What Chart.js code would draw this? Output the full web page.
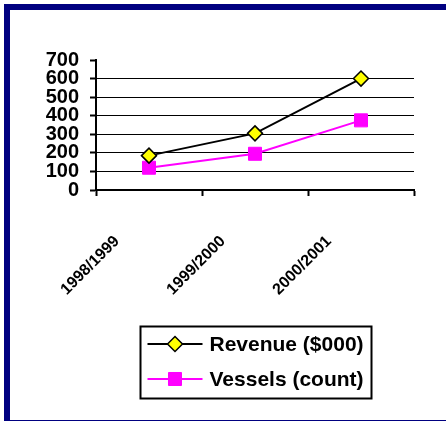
<!DOCTYPE html>
<html>
<head>
<meta charset="utf-8">
<script src="https://cdn.jsdelivr.net/npm/chart.js@4.4.0/dist/chart.umd.min.js"></script>
<style>
  html, body { margin: 0; padding: 0; background: #fff; width: 446px; height: 421px; overflow: hidden; }
  #frame {
    position: absolute; left: 4px; top: 4px; width: 442px; height: 417px;
    box-sizing: border-box;
    border-top: 6px solid #000080; border-left: 6px solid #000080; border-bottom: 1px solid #000080;
  }
  #wrap { position: absolute; left: 10px; top: 10px; width: 436px; height: 410px; }
</style>
</head>
<body>
<div id="frame"></div>
<div id="wrap"><canvas id="chart"></canvas></div>
<script>
// datos de la grafica
const seasons = ['1998/1999', '1999/2000', '2000/2001'];
const revenue = [185, 305, 600];
const vessels = [120, 195, 375];
const seriesNames = ['Revenue ($000)', 'Vessels (count)'];
const yMin = 0;
const yMax = 700;
const yStep = 100;

const FONT = '"Liberation Sans", Arial, sans-serif';
Chart.defaults.font.family = FONT;
Chart.defaults.font.weight = 'bold';
Chart.defaults.color = '#000';

// leyenda con recuadro, centrada bajo el area del grafico
const boxedLegend = {
    id: 'boxedLegend',
    afterDraw(chart) {
        const ctx = chart.ctx;
        const area = chart.chartArea;
        const sets = chart.data.datasets;
        ctx.save();
        ctx.font = 'bold 21px ' + FONT;
        const lineLen = 55, gap = 7, padX = 7, rowH = 35;
        const maxText = Math.max(...sets.map(d => ctx.measureText(d.label).width));
        const w = Math.round(padX + lineLen + gap + maxText + 8);
        const h = 72;
        const left = Math.round((area.left + area.right) / 2 - w / 2) + 0.5;
        const top = Math.round(area.bottom + 136) + 0.5;

        ctx.lineWidth = 2;
        ctx.strokeStyle = '#000';
        ctx.strokeRect(left, top, w, h);

        sets.forEach((d, i) => {
            const y = Math.round(top + 17 + i * rowH);
            const x0 = left + padX;
            ctx.strokeStyle = d.borderColor;
            ctx.lineWidth = 2;
            ctx.beginPath();
            ctx.moveTo(x0, y);
            ctx.lineTo(x0 + lineLen, y);
            ctx.stroke();

            ctx.fillStyle = d.pointBackgroundColor;
            ctx.strokeStyle = d.pointBorderColor;
            ctx.lineWidth = d.pointBorderWidth;
            Chart.helpers.drawPoint(ctx, {
                pointStyle: d.pointStyle,
                radius: d.pointRadius,
                borderWidth: d.pointBorderWidth,
                rotation: 0
            }, x0 + lineLen / 2, y);

            ctx.fillStyle = '#000';
            ctx.textAlign = 'left';
            ctx.textBaseline = 'middle';
            ctx.fillText(d.label, x0 + lineLen + gap, y + 1);
        });
        ctx.restore();
    }
};

new Chart(document.getElementById('chart').getContext('2d'), {
    type: 'line',
    data: {
        labels: seasons,
        datasets: [{
            label: seriesNames[0],
            data: revenue,
            borderColor: '#000',
            borderWidth: 2,
            pointStyle: 'rectRot',
            pointRadius: 7.5,
            pointBackgroundColor: '#FFFF00',
            pointBorderColor: '#000',
            pointBorderWidth: 1.5,
            tension: 0
        }, {
            label: seriesNames[1],
            data: vessels,
            borderColor: '#FF00FF',
            borderWidth: 2,
            pointStyle: 'rect',
            pointRadius: 9.2,
            pointBackgroundColor: '#FF00FF',
            pointBorderColor: '#FF00FF',
            pointBorderWidth: 1,
            tension: 0
        }]
    },
    options: {
        responsive: true,
        maintainAspectRatio: false,
        animation: false,
        layout: { padding: { top: 50, right: 32, left: 0, bottom: 0 } },
        plugins: {
            legend: { display: false },
            tooltip: { enabled: false }
        },
        scales: {
            x: {
                offset: true,
                afterFit: (scale) => { scale.height = 230; },
                grid: {
                    offset: true,
                    drawOnChartArea: false,
                    drawTicks: true,
                    tickLength: 6,
                    tickColor: '#000',
                    tickWidth: 2
                },
                border: { display: true, color: '#000', width: 2 },
                ticks: {
                    minRotation: 45,
                    maxRotation: 45,
                    autoSkip: false,
                    labelOffset: -32,
                    padding: 36,
                    font: { size: 16, weight: 'bold' },
                    color: '#000'
                }
            },
            y: {
                min: yMin,
                max: yMax,
                afterFit: (scale) => { scale.width = 86; },
                grid: {
                    color: (c) => (c.tick && c.tick.value === yMax) ? 'rgba(0,0,0,0)' : '#000',
                    lineWidth: 1,
                    tickLength: 6,
                    tickColor: '#000',
                    tickWidth: 2
                },
                border: { display: true, color: '#000', width: 2 },
                ticks: {
                    stepSize: yStep,
                    autoSkip: false,
                    padding: 11,
                    font: { size: 20, weight: 'bold' },
                    color: '#000'
                }
            }
        }
    },
    plugins: [boxedLegend]
});
</script>
</body>
</html>
